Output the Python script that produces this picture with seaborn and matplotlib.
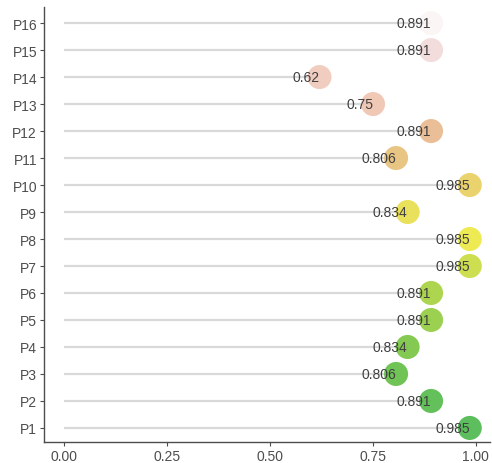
import matplotlib
matplotlib.use("Agg")
import matplotlib.pyplot as plt
import seaborn as sns
import pandas as pd
import numpy as np

labels = ["P1", "P2", "P3", "P4", "P5", "P6", "P7", "P8",
          "P9", "P10", "P11", "P12", "P13", "P14", "P15", "P16"]
values = [0.985, 0.891, 0.806, 0.834, 0.891, 0.891, 0.985, 0.985,
          0.834, 0.985, 0.806, 0.891, 0.75, 0.62, 0.891, 0.891]
colors = ["#45b545", "#4fb843", "#5cbc3e", "#72c23a", "#8dca38", "#a2d037",
          "#c6da38", "#ece83c", "#e6dc45", "#e8cc58", "#e6bd72", "#e8b689",
          "#efc2ac", "#f0c6b8", "#f1d8d8", "#fbf4f4"]

data = pd.DataFrame({
    "Label": labels,
    "Value": values,
    "Pos": np.arange(len(labels)),
})

sns.set_style("white")
plt.rcParams["font.family"] = ["Liberation Sans", "DejaVu Sans"]
fig = plt.figure(figsize=(4.92, 4.64), dpi=100)
ax = fig.add_axes([0.0894, 0.0453, 0.9066, 0.9377])

ax.hlines(data["Pos"], 0, data["Value"], color="#d9d9d9", linewidth=1.6, zorder=1)

sns.scatterplot(
    x="Value",
    y="Pos",
    hue="Label",
    data=data,
    palette=dict(zip(labels, colors)),
    s=300,
    edgecolor="none",
    alpha=0.88,
    legend=False,
    ax=ax,
    zorder=2
)

for i in range(len(data)):
    ax.text(
        x=data["Value"][i],
        y=data["Pos"][i],
        s=f"{data['Value'][i]:g}",
        ha="right",
        va="center",
        fontsize=10,
        color="#404040",
        zorder=3
    )

ax.set_xlim(-0.04925, 1.03425)
ax.set_ylim(-0.52, len(labels) - 1 + 0.6)
ax.set_xticks([0, 0.25, 0.5, 0.75, 1.0])
ax.set_xticklabels(["0.00", "0.25", "0.50", "0.75", "1.00"])
ax.set_yticks(data["Pos"])
ax.set_yticklabels(labels)
ax.tick_params(axis="both", labelsize=10, labelcolor="#4d4d4d", colors="#4d4d4d",
               length=3, width=0.8, pad=2, left=True, bottom=True)
ax.set_xlabel("")
ax.set_ylabel("")
for side in ["top", "right"]:
    ax.spines[side].set_visible(False)
for side in ["left", "bottom"]:
    ax.spines[side].set_color("#4d4d4d")
    ax.spines[side].set_linewidth(1.0)

fig.savefig("out.png", dpi=100)
